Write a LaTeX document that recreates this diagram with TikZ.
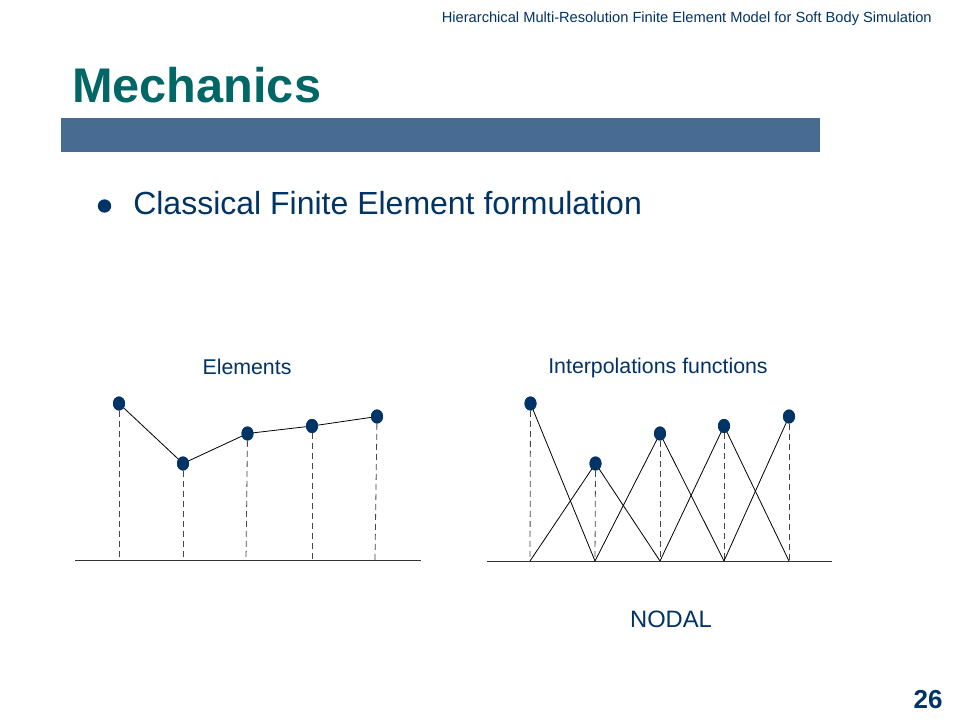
\documentclass[tikz,border=0pt]{standalone}
\usepackage{fontspec}
\setmainfont{Liberation Sans}
\definecolor{slideteal}{RGB}{0,102,102}
\definecolor{slidebar}{RGB}{72,108,145}
\definecolor{slidenavy}{RGB}{0,51,102}
\definecolor{dropgray}{RGB}{70,70,70}
\usetikzlibrary{shapes.geometric, positioning}

\begin{document}
\begin{tikzpicture}[x=0.75pt, y=-0.75pt,
			dot/.style={ellipse, fill=slidenavy, inner sep=0pt, minimum width=9pt, minimum height=10.5pt},
			drop/.style={dropgray, line width=0.6pt, dash pattern=on 4.5pt off 3pt},
			curve/.style={black, line width=0.6pt},
			axis/.style={black!80, line width=0.6pt},
			caption/.style={font=\fontsize{16pt}{19pt}\selectfont, text=slidenavy, inner sep=0pt}]
			\useasboundingbox[fill=white] (0,0) rectangle (960,720);
			% header, title and bar
			\node[anchor=base east, inner sep=0pt, text=slidenavy, font=\fontsize{11pt}{13pt}\selectfont] (head) at (932,23) {Hierarchical Multi-Resolution Finite Element Model for Soft Body Simulation};
			\node[anchor=base west, inner sep=0pt, text=slideteal, font=\fontsize{36.5pt}{40pt}\selectfont\bfseries] (title) at (72,103) {Mechanics};
			\fill[slidebar] (61,118) rectangle (820,152);
			\node[ellipse, fill=slidenavy, inner sep=0pt, minimum width=10pt, minimum height=10pt] (bul) at (104.5,206) {};
			\node[anchor=base west, inner sep=0pt, text=slidenavy, font=\fontsize{24pt}{28pt}\selectfont] (item) at (133,215) {Classical Finite Element formulation};
			% left: elements
			\node[caption] (elabel) at (247,367) {Elements};
			\coordinate (b1) at (119,560);
			\coordinate (b2) at (183,560);
			\coordinate (b3) at (246,560);
			\coordinate (b4) at (312,560);
			\coordinate (b5) at (375,560);
			\coordinate (l0) at (75,560);
			\coordinate (l6) at (421,560);
			\draw[axis] (l0) -- (l6);
			\node[dot] (e1) at (119,403.5) {};
			\node[dot] (e2) at (183,463.5) {};
			\node[dot] (e3) at (247.5,433.5) {};
			\node[dot] (e4) at (312,426) {};
			\node[dot] (e5) at (377,416.5) {};
			\draw[drop] (e1) -- (b1);
			\draw[drop] (e2) -- (b2);
			\draw[drop] (e3) -- (b3);
			\draw[drop] (e4) -- (b4);
			\draw[drop] (e5) -- (b5);
			\draw[curve] (e1.center) -- (e2.center) -- (e3.center) -- (e4.center) -- (e5.center);
			\node[dot] at (e1) {};
			\node[dot] at (e2) {};
			\node[dot] at (e3) {};
			\node[dot] at (e4) {};
			\node[dot] at (e5) {};
			% right: interpolation functions
			\node[caption] (ilabel) at (658,368) {Interpolations functions};
			\coordinate (c1) at (530,561);
			\coordinate (c2) at (595,561);
			\coordinate (c3) at (660,561);
			\coordinate (c4) at (724,561);
			\coordinate (c5) at (789,561);
			\coordinate (r0) at (487,561);
			\coordinate (r6) at (832,561);
			\draw[axis] (r0) -- (r6);
			\node[dot] (n1) at (530.5,403.5) {};
			\node[dot] (n2) at (595.5,463.5) {};
			\node[dot] (n3) at (660,433.5) {};
			\node[dot] (n4) at (724,426) {};
			\node[dot] (n5) at (789,416.5) {};
			\draw[drop] (n1) -- (c1);
			\draw[drop] (n2) -- (c2);
			\draw[drop] (n3) -- (c3);
			\draw[drop] (n4) -- (c4);
			\draw[drop] (n5) -- (c5);
			\draw[curve] (n1.center) -- (c2);
			\draw[curve] (c1) -- (n2.center) -- (c3);
			\draw[curve] (c2) -- (n3.center) -- (c4);
			\draw[curve] (c3) -- (n4.center) -- (c5);
			\draw[curve] (c4) -- (n5.center);
			\node[dot] at (n1) {};
			\node[dot] at (n2) {};
			\node[dot] at (n3) {};
			\node[dot] at (n4) {};
			\node[dot] at (n5) {};
			\node[inner sep=0pt, text=slidenavy, font=\fontsize{17.8pt}{20pt}\selectfont] (nodal) at (671,619) {NODAL};
			% page number
			\node[inner sep=0pt, text=slidenavy, font=\fontsize{19.5pt}{22pt}\selectfont\bfseries] (page) at (928,700) {26};
		\end{tikzpicture}
\end{document}
